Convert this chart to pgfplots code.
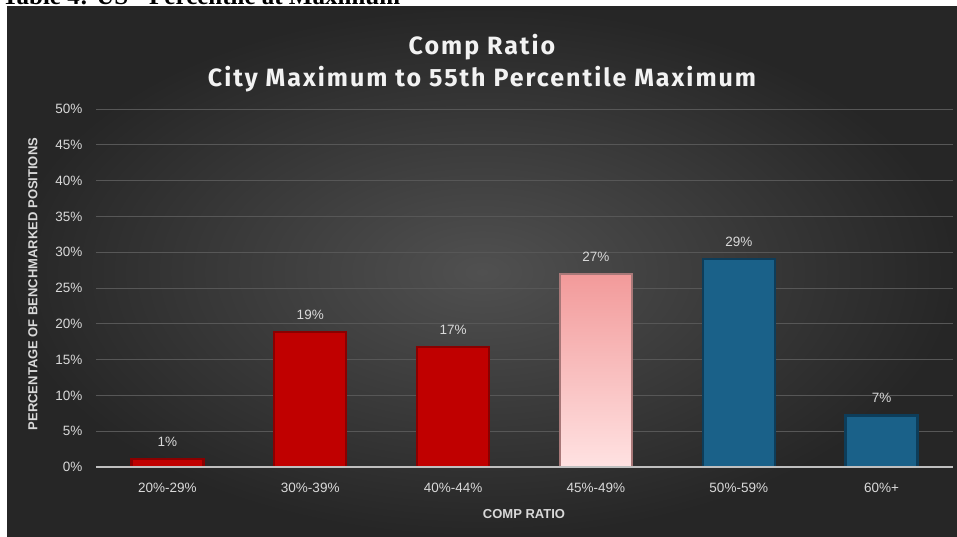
\documentclass[border=0pt]{standalone}
\usepackage{fontspec}
\setmainfont{Liberation Sans}
\newfontfamily\titlefont[LetterSpace=8]{Fira Sans}
\newfontfamily\serifbold{Liberation Serif}
\usepackage{pgfplots}
\pgfplotsset{compat=1.18}
\definecolor{bgin}{HTML}{505050}
\definecolor{bgout}{HTML}{262626}
\definecolor{gridc}{HTML}{575757}
\definecolor{axc}{HTML}{BFBFBF}
\definecolor{txt}{HTML}{D9D9D9}
\definecolor{redf}{HTML}{C00000}
\definecolor{redd}{HTML}{8A0000}
\definecolor{bluef}{HTML}{1A6189}
\definecolor{blued}{HTML}{0D3D5A}
\definecolor{pinkA}{HTML}{F29A9A}
\definecolor{pinkB}{HTML}{FFE2E2}
\definecolor{pinkd}{HTML}{A87878}
\begin{document}
\begin{tikzpicture}[x=1pt,y=1pt]
\useasboundingbox (0pt,0pt) rectangle (957pt,537pt);
\fill[white] (0pt,0pt) rectangle (957pt,537pt);
\shade[inner color=bgin, outer color=bgout] (7pt,0pt) rectangle (957pt,530pt);
\begin{scope}
\clip (0pt,530pt) rectangle (957pt,537pt);
\node[anchor=base west, inner sep=0pt, font=\serifbold\bfseries\fontsize{25}{28}\selectfont] at (2pt,532pt) {Table 4: US - Percentile at Maximum};
\end{scope}
\node[text=white!95!black, font=\titlefont\bfseries\fontsize{25}{29}\selectfont, align=center] at (482pt,474pt) {Comp Ratio\\[3pt]City Maximum to 55th Percentile Maximum};
\begin{axis}[
  at={(96pt,70pt)}, anchor=south west,
  scale only axis, width=857pt, height=358pt,
  xmin=-0.5, xmax=5.5, ymin=0, ymax=50,
  ybar, bar width=72pt, bar shift=0pt,
  axis line style={draw=none},
  xtick={0,1,2,3,4,5},
  xticklabels={20\%-29\%,30\%-39\%,40\%-44\%,45\%-49\%,50\%-59\%,60\%+},
  ytick={0,5,...,50},
  yticklabel={\pgfmathprintnumber{\tick}\%},
  /pgf/number format/assume math mode=true,
  major tick length=0pt,
  ymajorgrids, grid style={gridc, line width=0.9pt},
  ticklabel style={text=txt, font=\fontsize{13.5}{15}\selectfont},
  yticklabel style={xshift=-10pt},
  xticklabel style={yshift=-13pt},
  nodes near coords={\pgfmathprintnumber[fixed,precision=0]{\pgfplotspointmeta}\%},
  every node near coord/.append style={text=txt, font=\fontsize{13.5}{15}\selectfont, yshift=8pt},
  clip=false,
]
\addplot[fill=redf, draw=redd, line width=2.2pt] coordinates {(0,1.1) (1,18.8) (2,16.8)};
\addplot[top color=pinkA, bottom color=pinkB, draw=pinkd, line width=2.2pt] coordinates {(3,27.0)};
\addplot[fill=bluef, draw=blued, line width=2.2pt] coordinates {(4,29.0) (5,7.2)};
\draw[axc, line width=1.4pt] (axis cs:-0.5,0) -- (axis cs:5.5,0);
\end{axis}
\node[rotate=90, text=txt, font=\bfseries\fontsize{13}{15}\selectfont] at (33pt,253pt) {PERCENTAGE OF BENCHMARKED POSITIONS};
\node[text=txt, font=\bfseries\fontsize{13}{15}\selectfont] at (524pt,23pt) {COMP RATIO};
\end{tikzpicture}
\end{document}
